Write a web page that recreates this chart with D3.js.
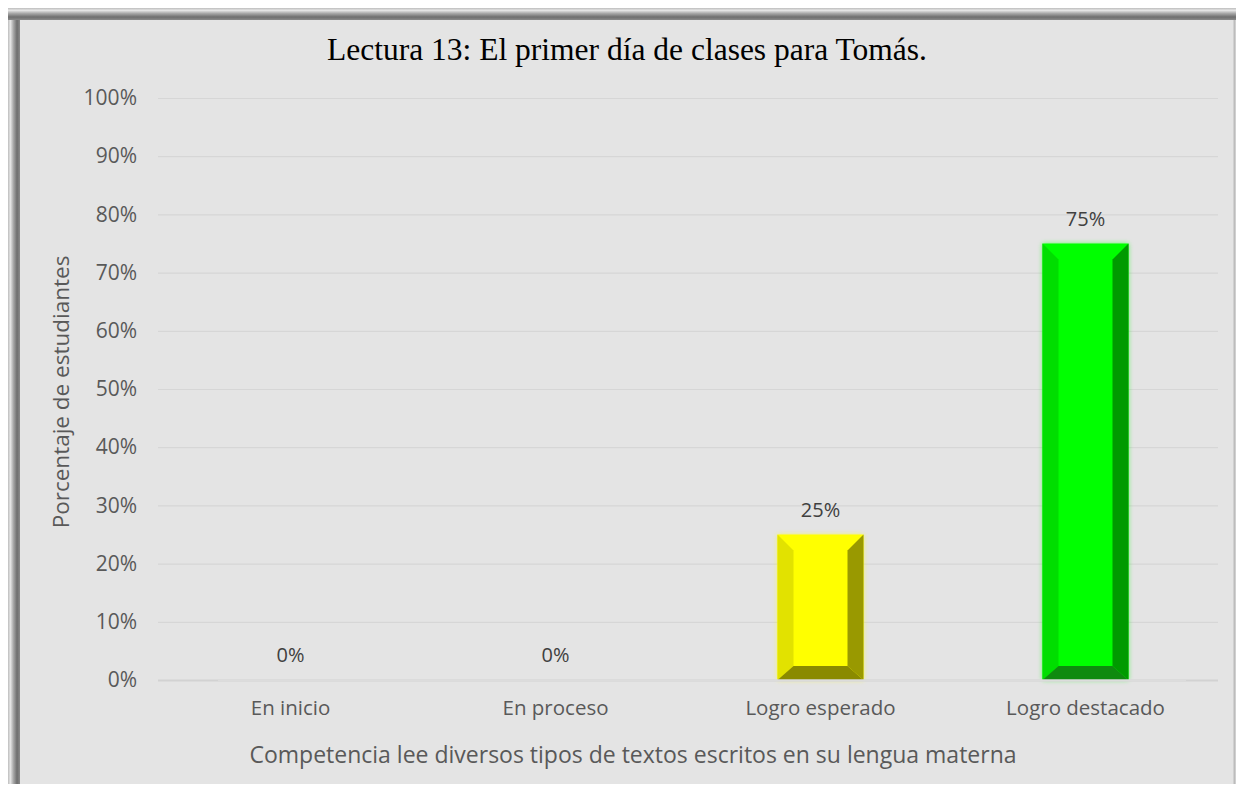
<!DOCTYPE html>
<html>
<head>
<meta charset="utf-8">
<script src="https://cdn.jsdelivr.net/npm/d3@7"></script>
<style>
  body { margin: 0; background: #fff; }
  svg text { font-family: "Open Sans", "Noto Sans", sans-serif; }
</style>
</head>
<body>
<div id="chart"></div>
<script>
var categories = ["En inicio", "En proceso", "Logro esperado", "Logro destacado"];
var values = [0, 0, 25, 75];
var yTicks = [0, 10, 20, 30, 40, 50, 60, 70, 80, 90, 100];
var faceColors = ["#ffff00", "#ffff00", "#ffff00", "#00ff00"];
var leftColors = ["#e2e200", "#e2e200", "#e2e200", "#00de00"];
var rightColors = ["#999900", "#999900", "#999900", "#009a00"];
var bottomColors = ["#8a8a00", "#8a8a00", "#8a8a00", "#0f8a0f"];

var svg_dx = 1236,
  svg_dy = 789;

var plot = { left: 158, right: 1218, top: 98, bottom: 680 };

var svg = d3.select("#chart")
  .append("svg")
  .attr("width", svg_dx)
  .attr("height", svg_dy);

var defs = svg.append("defs");

// bevelled frame gradients
function frameGradient(id, vertical) {
  var g = defs.append("linearGradient").attr("id", id)
    .attr("x1", 0).attr("x2", vertical ? 0 : 1)
    .attr("y1", 0).attr("y2", vertical ? 1 : 0);
  [["0%", "#bdbdbd"], ["20%", "#e6e6e6"], ["45%", "#a8a8a8"], ["75%", "#6e6e6e"], ["100%", "#8a8a8a"]]
    .forEach(function(s) {
      g.append("stop").attr("offset", s[0]).attr("stop-color", s[1]);
    });
}
frameGradient("frameL", false);
frameGradient("frameT", true);

var glow = defs.append("filter").attr("id", "glow")
  .attr("x", "-20%").attr("y", "-10%").attr("width", "140%").attr("height", "120%");
glow.append("feGaussianBlur").attr("stdDeviation", 2.5);

// frame
svg.append("rect")
  .attr("x", 8).attr("y", 8)
  .attr("width", svg_dx - 8).attr("height", 776)
  .attr("fill", "#e4e4e4");
svg.append("rect")
  .attr("x", 8).attr("y", 8)
  .attr("width", 12).attr("height", 776)
  .attr("fill", "url(#frameL)");
svg.append("rect")
  .attr("x", 8).attr("y", 8)
  .attr("width", svg_dx - 8).attr("height", 12)
  .attr("fill", "url(#frameT)");
svg.append("line")
  .attr("x1", 1234.5).attr("x2", 1234.5)
  .attr("y1", 20).attr("y2", 784)
  .attr("stroke", "#bcbcbc").attr("stroke-width", 2);

var xScale = d3.scaleBand()
  .domain(categories)
  .range([plot.left, plot.right]);

var yScale = d3.scaleLinear()
  .domain([0, 100])
  .range([plot.bottom, plot.top]);

var barW = 86,
  bev = 16,
  bevB = 14;

// gridlines
svg.append("g")
  .selectAll("line")
  .data(yTicks.filter(function(d) { return d > 0; }))
  .enter()
  .append("line")
  .attr("x1", plot.left)
  .attr("x2", plot.right)
  .attr("y1", function(d) { return yScale(d) + 0.5; })
  .attr("y2", function(d) { return yScale(d) + 0.5; })
  .attr("stroke", "#d6d6d6")
  .attr("stroke-width", 1.2);

// y axis
var axis_y = d3.axisLeft(yScale)
  .tickValues(yTicks)
  .tickSize(0)
  .tickPadding(0)
  .tickFormat(function(d) { return d + "%"; });

var gy = svg.append("g")
  .attr("transform", "translate(137,0)")
  .call(axis_y);
gy.select(".domain").remove();
gy.selectAll("text")
  .attr("fill", "#595959")
  .style("font-size", "21px");

// bars
values.forEach(function(v, i) {
  if (v <= 0) return;
  var cx = xScale(categories[i]) + xScale.bandwidth() / 2;
  var x0 = cx - barW / 2,
    x1 = cx + barW / 2,
    y0 = yScale(v),
    y1 = yScale(0);
  var g = svg.append("g");
  g.append("rect")
    .attr("x", x0).attr("y", y0)
    .attr("width", barW).attr("height", y1 - y0)
    .attr("fill", faceColors[i])
    .attr("opacity", 0.55)
    .attr("filter", "url(#glow)");
  g.append("rect")
    .attr("x", x0).attr("y", y0)
    .attr("width", barW).attr("height", y1 - y0)
    .attr("fill", faceColors[i]);
  // left bevel
  g.append("polygon")
    .attr("points", [[x0, y0], [x0 + bev, y0 + bev], [x0 + bev, y1 - bevB], [x0, y1]].join(" "))
    .attr("fill", leftColors[i]);
  // right bevel
  g.append("polygon")
    .attr("points", [[x1, y0], [x1 - bev, y0 + bev], [x1 - bev, y1 - bevB], [x1, y1]].join(" "))
    .attr("fill", rightColors[i]);
  // bottom bevel
  g.append("polygon")
    .attr("points", [[x0, y1], [x0 + bev, y1 - bevB], [x1 - bev, y1 - bevB], [x1, y1]].join(" "))
    .attr("fill", bottomColors[i]);
});

// baseline
svg.append("line")
  .attr("x1", plot.left).attr("x2", plot.right)
  .attr("y1", plot.bottom + 0.5).attr("y2", plot.bottom + 0.5)
  .attr("stroke", "#d2d2d2").attr("stroke-width", 2);
svg.append("line")
  .attr("x1", 218).attr("x2", 1186)
  .attr("y1", plot.bottom + 0.5).attr("y2", plot.bottom + 0.5)
  .attr("stroke", "#dcdcdc").attr("stroke-width", 2);

// x axis labels
var axis_x = d3.axisBottom(xScale).tickSize(0).tickPadding(0);
var gx = svg.append("g")
  .attr("transform", "translate(0," + (plot.bottom + 20) + ")")
  .call(axis_x);
gx.select(".domain").remove();
gx.selectAll("text")
  .attr("fill", "#595959")
  .style("font-size", "20.5px");

// data labels
svg.append("g")
  .selectAll("text")
  .data(values)
  .enter()
  .append("text")
  .attr("x", function(d, i) { return xScale(categories[i]) + xScale.bandwidth() / 2; })
  .attr("y", function(d) { return yScale(d) - 18; })
  .attr("text-anchor", "middle")
  .attr("fill", "#404040")
  .style("font-size", "20px")
  .text(function(d) { return d + "%"; });

// titles
svg.append("text")
  .attr("x", 627)
  .attr("y", 60)
  .attr("text-anchor", "middle")
  .attr("fill", "#000")
  .style("font-family", "'Liberation Serif', 'Times New Roman', serif")
  .style("font-size", "31.5px")
  .text("Lectura 13: El primer día de clases para Tomás.");

svg.append("text")
  .attr("x", 633)
  .attr("y", 763)
  .attr("text-anchor", "middle")
  .attr("fill", "#595959")
  .style("font-size", "23px")
  .text("Competencia lee diversos tipos de textos escritos en su lengua materna");

svg.append("text")
  .attr("transform", "translate(69,392) rotate(-90)")
  .attr("text-anchor", "middle")
  .attr("fill", "#595959")
  .style("font-size", "22.5px")
  .text("Porcentaje de estudiantes");
</script>
</body>
</html>
